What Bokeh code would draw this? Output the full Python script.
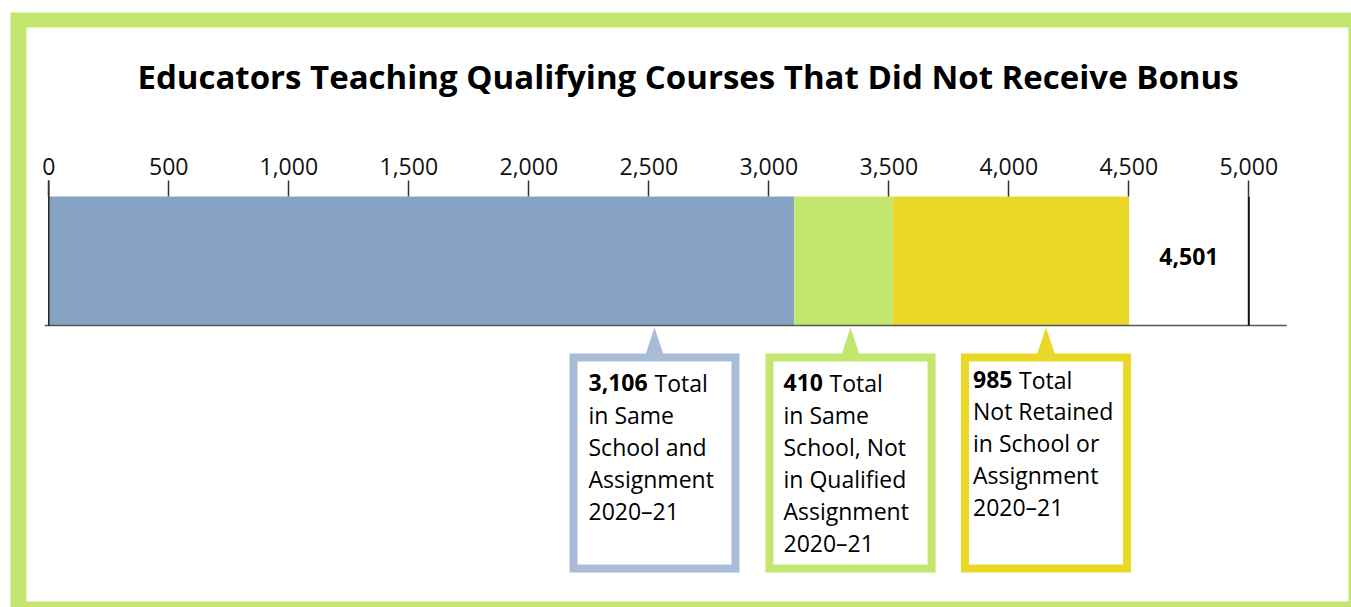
from bokeh.plotting import figure
from bokeh.models import Range1d, LinearAxis, FixedTicker, NumeralTickFormatter
from bokeh.core.properties import value
from bokeh.embed import file_html
from bokeh.resources import INLINE

# ---------------- data ----------------
TITLE = "Educators Teaching Qualifying Courses That Did Not Receive Bonus"
categories = [
    "Same School and Assignment",
    "Same School, Not in Qualified Assignment",
    "Not Retained in School or Assignment",
]
counts = [3106, 410, 985]
total_count = 4501
total_label = "4,501"
tick_values = [0, 500, 1000, 1500, 2000, 2500, 3000, 3500, 4000, 4500, 5000]
callout_numbers = ["3,106", "410", "985"]
callout_lines = [
    ["Total", "in Same", "School and", "Assignment", "2020\u201321"],
    ["Total", "in Same", "School, Not", "in Qualified", "Assignment", "2020\u201321"],
    ["Total", "Not Retained", "in School or", "Assignment", "2020\u201321"],
]
bar_colors = ["#86A3C3", "#C3E66E", "#E9D826"]
box_colors = ["#A9BCD7", "#C3E66E", "#E9D826"]
FRAME_GREEN = "#C3E66E"

# ---------------- layout (pixels) ----------------
W, H = 1351, 607
X0_PX = 48.3           # pixel of value 0
PX = 0.24              # pixels per unit
XL = -X0_PX / PX
XR = (W - X0_PX) / PX


def dx(px):
    return px / PX


def xpx(px):
    return (px - X0_PX) / PX


BAR_TOP, BAR_BOT = 196, 325
FONT = "Open Sans"

p = figure(width=W, height=H, x_range=Range1d(XL, XR), y_range=Range1d(H, 0),
           output_backend="svg", toolbar_location=None,
           x_axis_location=None, y_axis_location=None,
           min_border=0, outline_line_color=None,
           background_fill_color="white", border_fill_color="white")
p.grid.visible = False

# frame (green band, partly cut off at right/bottom like the reference)
p.quad(left=[xpx(10)], right=[xpx(W + 20)], top=[12], bottom=[H + 20],
       fill_color=FRAME_GREEN, line_color=None)
p.quad(left=[xpx(26)], right=[xpx(1348)], top=[27], bottom=[601],
       fill_color="white", line_color=None)

# title
p.text(x=[xpx(687.5)], y=[76], text=[TITLE], text_font=value(FONT),
       text_font_style="bold", text_font_size="33px", text_color="black",
       text_align="center", text_baseline="middle")

# stacked bar
lefts, rights = [], []
acc = 0
for c in counts:
    lefts.append(acc)
    acc += c
    rights.append(acc)
p.quad(left=lefts, right=rights, top=BAR_TOP, bottom=BAR_BOT,
       fill_color=bar_colors, line_color=None)

# axis on top
axis = LinearAxis(fixed_location=BAR_TOP,
                  ticker=FixedTicker(ticks=tick_values),
                  formatter=NumeralTickFormatter(format="0,0"))
axis.axis_line_color = None
axis.major_tick_out = 16
axis.major_tick_in = 0
axis.minor_tick_out = 0
axis.minor_tick_in = 0
axis.major_tick_line_color = "#333333"
axis.major_tick_line_width = 1.5
axis.major_label_standoff = 6
axis.major_label_text_font = FONT
axis.major_label_text_font_size = "23px"
axis.major_label_text_color = "#111111"
p.add_layout(axis, "above")

# baseline and vertical rules
p.segment(x0=[-dx(4)], y0=[BAR_BOT], x1=[tick_values[-1] + dx(38)], y1=[BAR_BOT],
          line_color="#555555", line_width=1.5)
p.segment(x0=[0], y0=[BAR_TOP - 16], x1=[0], y1=[BAR_BOT],
          line_color="#222222", line_width=1.5)
p.segment(x0=[tick_values[-1]], y0=[BAR_TOP], x1=[tick_values[-1]], y1=[BAR_BOT],
          line_color="#111111", line_width=2)

# total label
p.text(x=[(total_count + tick_values[-1]) / 2], y=[256], text=[total_label],
       text_font=value(FONT), text_font_style="bold", text_font_size="23px",
       text_color="black", text_align="center", text_baseline="middle")

# callouts
centers = [xpx(654), xpx(850), xpx(1045.5)]
BOX_TOP, BOX_BOT = 353, 572
HALF = dx(85)
BW = 8
pads = [19, 18, 12]
number_offsets = [66, 46, 46]
first_centers = [382, 382, 379]
spacing = [32, 32, 31.8]
for i, cx in enumerate(centers):
    col = box_colors[i]
    # pointer
    p.patch(x=[cx - dx(9), cx, cx + dx(9)], y=[BOX_TOP + 1, 327, BOX_TOP + 1],
            fill_color=col, line_color=None)
    p.quad(left=[cx - HALF], right=[cx + HALF], top=[BOX_TOP], bottom=[BOX_BOT],
           fill_color=col, line_color=None)
    p.quad(left=[cx - HALF + dx(BW)], right=[cx + HALF - dx(BW)],
           top=[BOX_TOP + BW], bottom=[BOX_BOT - BW],
           fill_color="white", line_color=None)
    tx = cx - HALF + dx(pads[i])
    yc = first_centers[i]
    p.text(x=[tx], y=[yc], text=[callout_numbers[i]], text_font=value(FONT),
           text_font_style="bold", text_font_size="23px", text_color="black",
           text_align="left", text_baseline="middle")
    lines = callout_lines[i]
    p.text(x=[tx], y=[yc], text=[lines[0]], x_offset=number_offsets[i],
           text_font=value(FONT), text_font_size="23px", text_color="black",
           text_align="left", text_baseline="middle")
    ys = [yc + spacing[i] * k for k in range(1, len(lines))]
    p.text(x=[tx] * len(ys), y=ys, text=lines[1:], text_font=value(FONT),
           text_font_size="23px", text_color="black",
           text_align="left", text_baseline="middle")

open("out.html", "w").write(file_html(p, INLINE))
